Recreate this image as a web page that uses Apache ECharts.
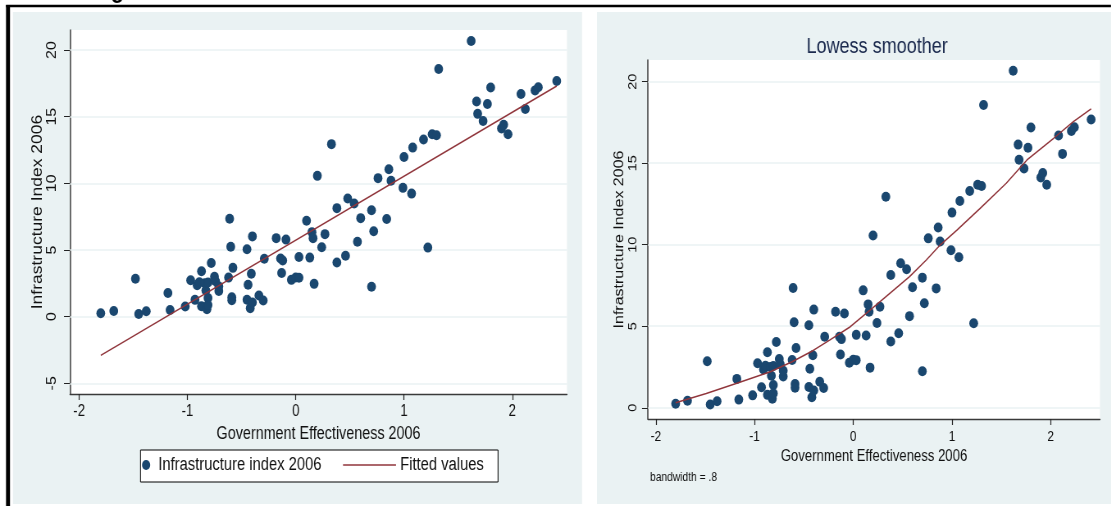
<!DOCTYPE html>
<html>
<head>
<meta charset="utf-8">
<script src="https://cdn.jsdelivr.net/npm/echarts@6/dist/echarts.min.js"></script>
<style>
  html, body { margin: 0; padding: 0; background: #ffffff; overflow: hidden; }
  /* the graph is laid out wide and drawn horizontally condensed */
  #chart { height: 506px; transform-origin: 0 0; }
</style>
</head>
<body>
<div id="chart"></div>
<script>
// Government effectiveness (x) and infrastructure index (y), 2006, one entry per country
const govEff = [
  -1.80, -1.68, -1.48, -1.45, -1.38, -1.18, -1.16, -1.02, -0.97, -0.93,
  -0.91, -0.89, -0.87, -0.87, -0.84, -0.83, -0.82, -0.81, -0.81, -0.81,
  -0.78, -0.75, -0.74, -0.71, -0.71, -0.62, -0.61, -0.60, -0.59, -0.59,
  -0.58, -0.45, -0.44, -0.45, -0.42, -0.41, -0.40, -0.40, -0.34, -0.30,
  -0.29, -0.18, -0.14, -0.12, -0.13, -0.09, -0.04, 0.00, 0.03, 0.03,
  0.10, 0.13, 0.15, 0.16, 0.17, 0.20, 0.24, 0.27, 0.33, 0.38,
  0.38, 0.46, 0.48, 0.54, 0.57, 0.60, 0.70, 0.70, 0.72, 0.76,
  0.84, 0.86, 0.88, 0.99, 1.00, 1.07, 1.08, 1.18, 1.22, 1.26,
  1.30, 1.32, 1.62, 1.67, 1.68, 1.73, 1.77, 1.80, 1.90, 1.92,
  1.96, 2.08, 2.12, 2.21, 2.24, 2.41
];
const infra = [
  0.25, 0.43, 2.85, 0.20, 0.40, 1.77, 0.50, 0.76, 2.73, 1.26,
  2.35, 2.58, 3.40, 0.79, 2.50, 1.96, 0.55, 1.40, 0.88, 2.56,
  4.03, 2.99, 2.66, 1.92, 2.27, 2.93, 7.34, 5.24, 1.45, 1.23,
  3.66, 5.06, 2.39, 1.27, 0.64, 3.22, 6.02, 1.06, 1.59, 1.21,
  4.35, 5.89, 4.36, 4.21, 3.27, 5.78, 2.76, 2.94, 2.92, 4.47,
  7.20, 4.43, 6.34, 5.89, 2.46, 10.56, 5.20, 6.19, 12.94, 8.14,
  4.06, 4.57, 8.86, 8.49, 5.62, 7.39, 7.98, 2.24, 6.41, 10.39,
  7.32, 11.06, 10.20, 9.66, 11.97, 9.23, 12.68, 13.29, 5.18, 13.68,
  13.60, 18.57, 20.67, 16.14, 15.21, 14.67, 15.95, 17.19, 14.12, 14.40,
  13.68, 16.70, 15.57, 16.97, 17.20, 17.68
];

// Linear fit (end points over the observed range)
const fitX = [-1.80, 2.41];
const fitY = [-2.90, 17.30];

// Lowess smoother, bandwidth .8
const lowessX = [-1.80, -1.49, -1.18, -0.84, -0.62, -0.41, -0.24, -0.03, 0.17, 0.37,
                 0.57, 0.74, 0.88, 1.05, 1.28, 1.55, 1.76, 2.03, 2.23, 2.41];
const lowessY = [0.31, 0.88, 1.50, 2.21, 2.82, 3.50, 4.15, 4.97, 5.99, 7.02,
                 8.04, 9.06, 9.98, 10.90, 12.20, 13.77, 15.20, 16.53, 17.55, 18.33];

const xTicks = [-2, -1, 0, 1, 2];
const yTicksLeft = [-5, 0, 5, 10, 15, 20];
const yTicksRight = [0, 5, 10, 15, 20];

// horizontal condensing of the whole graph
const SQ = 0.82;
const px = v => v / SQ;
const el = document.getElementById('chart');
el.style.width = px(1111) + 'px';
el.style.transform = 'scaleX(' + SQ + ')';

const FONT = "'Liberation Sans', Arial, sans-serif";
const NAVY = '#1a476f';
const MAROON = '#90353b';
const PANEL = '#eaf2f3';
const AXIS = '#3a3a3a';
const TEXT = '#111111';

const points = govEff.map((x, i) => [x, infra[i]]);
const fitted = fitX.map((x, i) => [x, fitY[i]]);
const lowess = lowessX.map((x, i) => [x, lowessY[i]]);

// horizontal grid lines at the y ticks, kept under the markers
function gridLines(ticks) {
  return {
    silent: true, symbol: 'none', z: 1, animation: false,
    label: { show: false },
    emphasis: { disabled: true },
    lineStyle: { color: PANEL, width: 1.6, type: 'solid' },
    data: ticks.map(v => ({ yAxis: v }))
  };
}

function xAxis(gridIndex, min, max, labelSize, nameSize, labelMargin, nameGap) {
  return {
    type: 'value', gridIndex, min, max,
    name: 'Government Effectiveness 2006',
    nameLocation: 'middle', nameGap,
    nameTextStyle: { fontFamily: FONT, fontSize: nameSize, color: TEXT },
    axisLine: { show: true, onZero: false, lineStyle: { color: AXIS, width: 1.3 } },
    axisTick: { show: true, customValues: xTicks, length: 6, lineStyle: { color: '#222', width: 1.2 } },
    axisLabel: { show: true, customValues: xTicks, margin: labelMargin,
                 fontFamily: FONT, fontSize: labelSize, color: TEXT },
    splitLine: { show: false }
  };
}

function yAxis(gridIndex, min, max, ticks, labelSize, nameSize, labelMargin, nameGap) {
  return {
    type: 'value', gridIndex, min, max,
    name: 'Infrastructure Index 2006',
    nameLocation: 'middle', nameGap, nameRotate: 90,
    nameTextStyle: { fontFamily: FONT, fontSize: nameSize, color: TEXT },
    axisLine: { show: true, onZero: false, lineStyle: { color: AXIS, width: 1.5 } },
    axisTick: { show: true, customValues: ticks, length: px(6), lineStyle: { color: '#222', width: 1 } },
    axisLabel: { show: true, customValues: ticks, rotate: 90, margin: px(labelMargin),
                 fontFamily: FONT, fontSize: labelSize, color: TEXT },
    splitLine: { show: false }
  };
}

const chart = echarts.init(el, null, { renderer: 'canvas' });

chart.setOption({
  animation: false,
  backgroundColor: '#ffffff',
  title: {
    text: 'Lowess smoother',
    left: px(873), top: 31, textAlign: 'center',
    textStyle: { fontFamily: FONT, fontSize: 22, fontWeight: 'normal', color: '#1b2a4e' }
  },
  grid: [
    { left: px(70), top: 30, width: px(497), height: 364, show: true, backgroundColor: '#ffffff', borderWidth: 0, containLabel: false },
    { left: px(648), top: 60, width: px(452), height: 359, show: true, backgroundColor: '#ffffff', borderWidth: 0, containLabel: false }
  ],
  xAxis: [
    xAxis(0, -2.084, 2.505, 16, 17.5, 10, 27),
    xAxis(1, -2.080, 2.500, 14.5, 16, 10, 26)
  ],
  yAxis: [
    yAxis(0, -5.8, 21.5, yTicksLeft, 16, 17.5, 11, px(21)),
    yAxis(1, -0.69, 21.33, yTicksRight, 14.5, 16, 9, px(22))
  ],
  legend: [
    {
      data: ['Infrastructure index 2006'],
      left: px(142), top: 456, itemWidth: px(16), itemHeight: 10, padding: 0,
      selectedMode: false,
      textStyle: { fontFamily: FONT, fontSize: 18, color: TEXT }
    },
    {
      data: [{ name: 'Fitted values', icon: 'rect' }],
      left: px(343), top: 456, itemWidth: px(53), itemHeight: 1.6, padding: 0,
      selectedMode: false,
      textStyle: { fontFamily: FONT, fontSize: 18, color: TEXT }
    }
  ],
  graphic: [
    { type: 'rect', z: -20, shape: { x: px(13), y: 12, width: px(569), height: 492 }, style: { fill: PANEL } },
    { type: 'rect', z: -20, shape: { x: px(597), y: 12, width: px(514), height: 492 }, style: { fill: PANEL } },
    { type: 'rect', z: 3, shape: { x: px(140.5), y: 450, width: px(357.5), height: 32 }, style: { fill: '#ffffff', stroke: '#000000', lineWidth: 1 } },
    { type: 'line', z: 50, shape: { x1: px(6), y1: 6, x2: px(1111), y2: 6 }, style: { stroke: '#000000', lineWidth: 2.5 } },
    { type: 'line', z: 50, shape: { x1: px(8), y1: 5, x2: px(8), y2: 506 }, style: { stroke: '#000000', lineWidth: px(4) } },
    { type: 'text', z: 50, x: px(92), y: 4,
      style: { text: 'Figure', font: "bold 26px 'Liberation Sans', Arial, sans-serif", fill: '#000', verticalAlign: 'bottom' } },
    { type: 'text', z: 10, x: px(650), y: 478,
      style: { text: 'bandwidth = .8', font: "12.5px " + FONT, fill: TEXT, verticalAlign: 'middle' } }
  ],
  series: [
    {
      name: 'Infrastructure index 2006', type: 'scatter',
      xAxisIndex: 0, yAxisIndex: 0, z: 3,
      symbol: 'circle', symbolSize: [px(8.8), 10],
      itemStyle: { color: NAVY, opacity: 1 },
      data: points,
      markLine: gridLines(yTicksLeft)
    },
    {
      name: 'Fitted values', type: 'line',
      xAxisIndex: 0, yAxisIndex: 0, z: 4,
      symbol: 'none', showSymbol: false,
      lineStyle: { color: MAROON, width: 1.5 },
      itemStyle: { color: MAROON },
      data: fitted
    },
    {
      name: 'Observed', type: 'scatter',
      xAxisIndex: 1, yAxisIndex: 1, z: 3,
      symbol: 'circle', symbolSize: [px(8.8), 10],
      itemStyle: { color: NAVY, opacity: 1 },
      data: points,
      markLine: gridLines(yTicksRight)
    },
    {
      name: 'Lowess', type: 'line',
      xAxisIndex: 1, yAxisIndex: 1, z: 4,
      symbol: 'none', showSymbol: false,
      lineStyle: { color: MAROON, width: 1.5 },
      data: lowess
    }
  ]
});
</script>
</body>
</html>
